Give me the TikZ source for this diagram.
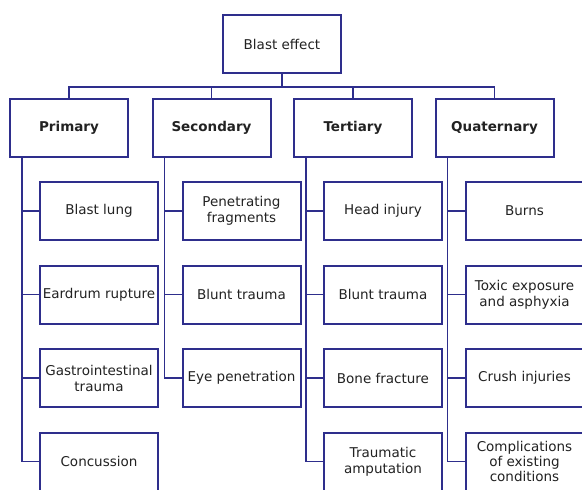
\documentclass[tikz,border=0pt]{standalone}
\usepackage{fontspec}
\setmainfont{DejaVu Sans}
\usetikzlibrary{positioning,shadows}

\definecolor{boxblue}{RGB}{46,46,140}
\definecolor{txtgray}{RGB}{34,34,34}

\tikzset{
  basebox/.style={draw=boxblue, line width=2pt, fill=white, text=txtgray,
    minimum width=118pt, minimum height=58pt, inner xsep=1pt, align=center,
    font=\fontsize{13.5}{16}\selectfont,
    drop shadow={shadow xshift=1pt, shadow yshift=-1pt, opacity=0.2}},
  catbox/.style={basebox, font=\fontsize{13.5}{16}\selectfont\bfseries},
  link/.style={draw=boxblue, line width=1.3pt}
}

\begin{document}
\begin{tikzpicture}
  \useasboundingbox (0,0) rectangle (582pt,-490pt);

  \node [basebox] (top) at (282pt,-44pt) {Blast effect};

  \node [catbox] (prim) at (69pt,-128pt) {Primary};
  \node [catbox] (sec) at (211.5pt,-128pt) {Secondary};
  \node [catbox] (ter) at (353pt,-128pt) {Tertiary};
  \node [catbox] (quat) at (494.5pt,-128pt) {Quaternary};

  % primary
  \node [basebox, below=23pt of prim, xshift=30pt] (p1) {Blast lung};
  \node [basebox, below=23.5pt of p1] (p2) {Eardrum rupture};
  \node [basebox, below=23.5pt of p2] (p3) {Gastrointestinal\\trauma};
  \node [basebox, below=23.5pt of p3] (p4) {Concussion};

  % secondary
  \node [basebox, below=23pt of sec, xshift=30pt] (s1) {Penetrating\\fragments};
  \node [basebox, below=23.5pt of s1] (s2) {Blunt trauma};
  \node [basebox, below=23.5pt of s2] (s3) {Eye penetration};

  % tertiary
  \node [basebox, below=23pt of ter, xshift=30pt] (t1) {Head injury};
  \node [basebox, below=23.5pt of t1] (t2) {Blunt trauma};
  \node [basebox, below=23.5pt of t2] (t3) {Bone fracture};
  \node [basebox, below=23.5pt of t3] (t4) {Traumatic\\amputation};

  % quaternary
  \node [basebox, below=23pt of quat, xshift=30pt] (q1) {Burns};
  \node [basebox, below=23.5pt of q1] (q2) {Toxic exposure\\and asphyxia};
  \node [basebox, below=23.5pt of q2] (q3) {Crush injuries};
  \node [basebox, below=23.5pt of q3, font=\fontsize{13.5}{15}\selectfont] (q4)
    {Complications\\of existing\\conditions};

  \draw [link] (top.south) -- ++(0,-13pt) coordinate (bus);
  \draw [link] (prim.north) |- (bus) -| (quat.north);
  \draw [link] (sec.north) |- (bus);
  \draw [link] (ter.north) |- (bus);

  \draw [link] ([xshift=13pt]prim.south west) |- (p1.west);
  \draw [link] ([xshift=13pt]prim.south west) |- (p2.west);
  \draw [link] ([xshift=13pt]prim.south west) |- (p3.west);
  \draw [link] ([xshift=13pt]prim.south west) |- (p4.west);

  \draw [link] ([xshift=13pt]sec.south west) |- (s1.west);
  \draw [link] ([xshift=13pt]sec.south west) |- (s2.west);
  \draw [link] ([xshift=13pt]sec.south west) |- (s3.west);

  \draw [link] ([xshift=13pt]ter.south west) |- (t1.west);
  \draw [link] ([xshift=13pt]ter.south west) |- (t2.west);
  \draw [link] ([xshift=13pt]ter.south west) |- (t3.west);
  \draw [link] ([xshift=13pt]ter.south west) |- (t4.west);

  \draw [link] ([xshift=13pt]quat.south west) |- (q1.west);
  \draw [link] ([xshift=13pt]quat.south west) |- (q2.west);
  \draw [link] ([xshift=13pt]quat.south west) |- (q3.west);
  \draw [link] ([xshift=13pt]quat.south west) |- (q4.west);
\end{tikzpicture}
\end{document}
